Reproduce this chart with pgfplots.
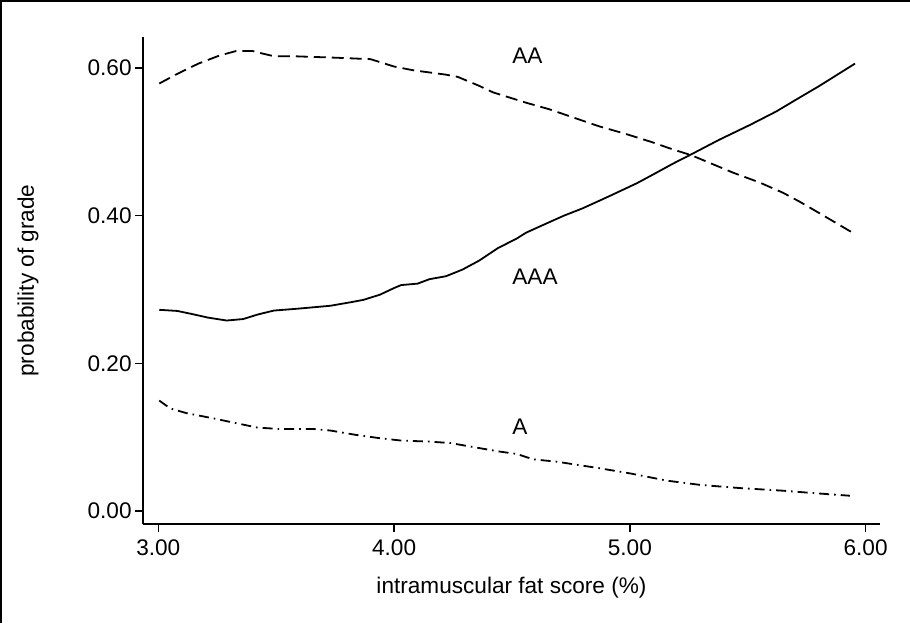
\documentclass[border=0pt]{standalone}
\usepackage{fontspec}
\setmainfont{Liberation Sans}
\usepackage{pgfplots}
\pgfplotsset{compat=1.18}
\begin{document}
\begin{tikzpicture}[x=1pt,y=1pt]
\useasboundingbox (0,0) rectangle (455,311.5);
\draw[line width=1pt] (0.5,0) -- (0.5,311) -- (455,311);
\begin{axis}[
    at={(71.5pt,49.5pt)}, anchor=south west,
    scale only axis,
    width=368.5pt, height=243.5pt,
    xmin=2.935, xmax=6.061,
    ymin=-0.0176, ymax=0.642,
    axis x line=bottom, axis y line=left,
    axis line style={-, line width=0.7pt},
    tick align=outside,
    major tick length=4pt,
    tick style={line width=0.7pt, black},
    xtick={3,4,5,6},
    ytick={0,0.2,0.4,0.6},
    font=\fontsize{11.3}{13.5}\selectfont,
    tick label style={/pgf/number format/fixed,
        /pgf/number format/fixed zerofill,
        /pgf/number format/precision=2,
        /pgf/number format/assume math mode=true},
    yticklabel style={inner sep=1.5pt},
    xticklabel style={inner sep=3.5pt},
    xlabel={intramuscular fat score (\%)},
    xlabel style={at={(axis description cs:0.5,-0.1417)}, anchor=base},
    ylabel={probability of grade},
    ylabel style={at={(axis description cs:-0.156,0.5)}, anchor=center},
    clip=false,
]
% AA
\addplot[black, line width=0.9pt, dash pattern=on 6pt off 3pt] coordinates {
    (3.004,0.579) (3.08,0.592) (3.17,0.606) (3.26,0.617) (3.33,0.623)
    (3.40,0.623) (3.45,0.619) (3.49,0.616) (3.57,0.616) (3.66,0.615)
    (3.75,0.614) (3.90,0.612) (3.95,0.607) (4.00,0.602) (4.08,0.597)
    (4.15,0.594) (4.22,0.591) (4.27,0.588) (4.36,0.576) (4.42,0.567)
    (4.46,0.563) (4.49,0.560) (4.56,0.553) (4.66,0.544) (4.76,0.533)
    (4.87,0.521) (4.98,0.511) (5.09,0.500) (5.18,0.490) (5.26,0.482)
    (5.35,0.470) (5.44,0.458) (5.55,0.445) (5.65,0.431) (5.72,0.419)
    (5.79,0.406) (5.87,0.391) (5.955,0.375)
};
% AAA
\addplot[black, line width=0.9pt] coordinates {
    (3.004,0.2725) (3.08,0.271) (3.14,0.267) (3.21,0.262) (3.29,0.258)
    (3.36,0.260) (3.42,0.266) (3.49,0.2715) (3.59,0.274) (3.73,0.278)
    (3.82,0.283) (3.87,0.286) (3.94,0.293) (4.00,0.302) (4.03,0.306)
    (4.10,0.308) (4.15,0.314) (4.22,0.318) (4.29,0.327) (4.36,0.339)
    (4.44,0.356) (4.52,0.369) (4.56,0.377) (4.65,0.390) (4.72,0.400)
    (4.80,0.410) (4.91,0.426) (5.03,0.444) (5.10,0.456) (5.18,0.470)
    (5.26,0.483) (5.38,0.503) (5.51,0.523) (5.62,0.541) (5.72,0.560)
    (5.80,0.575) (5.88,0.591) (5.955,0.606)
};
% A
\addplot[black, line width=0.9pt, dash pattern=on 5pt off 2.5pt on 0.8pt off 2.5pt] coordinates {
    (3.004,0.1496) (3.05,0.139) (3.12,0.1325) (3.23,0.1257) (3.33,0.119)
    (3.42,0.113) (3.52,0.111) (3.66,0.111) (3.73,0.109) (3.84,0.103)
    (3.94,0.0986) (4.03,0.0954) (4.15,0.094) (4.24,0.092) (4.34,0.0864)
    (4.45,0.0804) (4.52,0.0773) (4.59,0.070) (4.69,0.0668) (4.87,0.058)
    (5.00,0.051) (5.16,0.041) (5.30,0.0353) (5.47,0.031) (5.65,0.0275)
    (5.79,0.024) (5.933,0.0207)
};
\node[anchor=base west, inner sep=0pt] at (axis cs:4.5,0.606) {AA};
\node[anchor=base west, inner sep=0pt] at (axis cs:4.5,0.3065) {AAA};
\node[anchor=base west, inner sep=0pt] at (axis cs:4.5,0.103) {A};
\end{axis}
\end{tikzpicture}
\end{document}
